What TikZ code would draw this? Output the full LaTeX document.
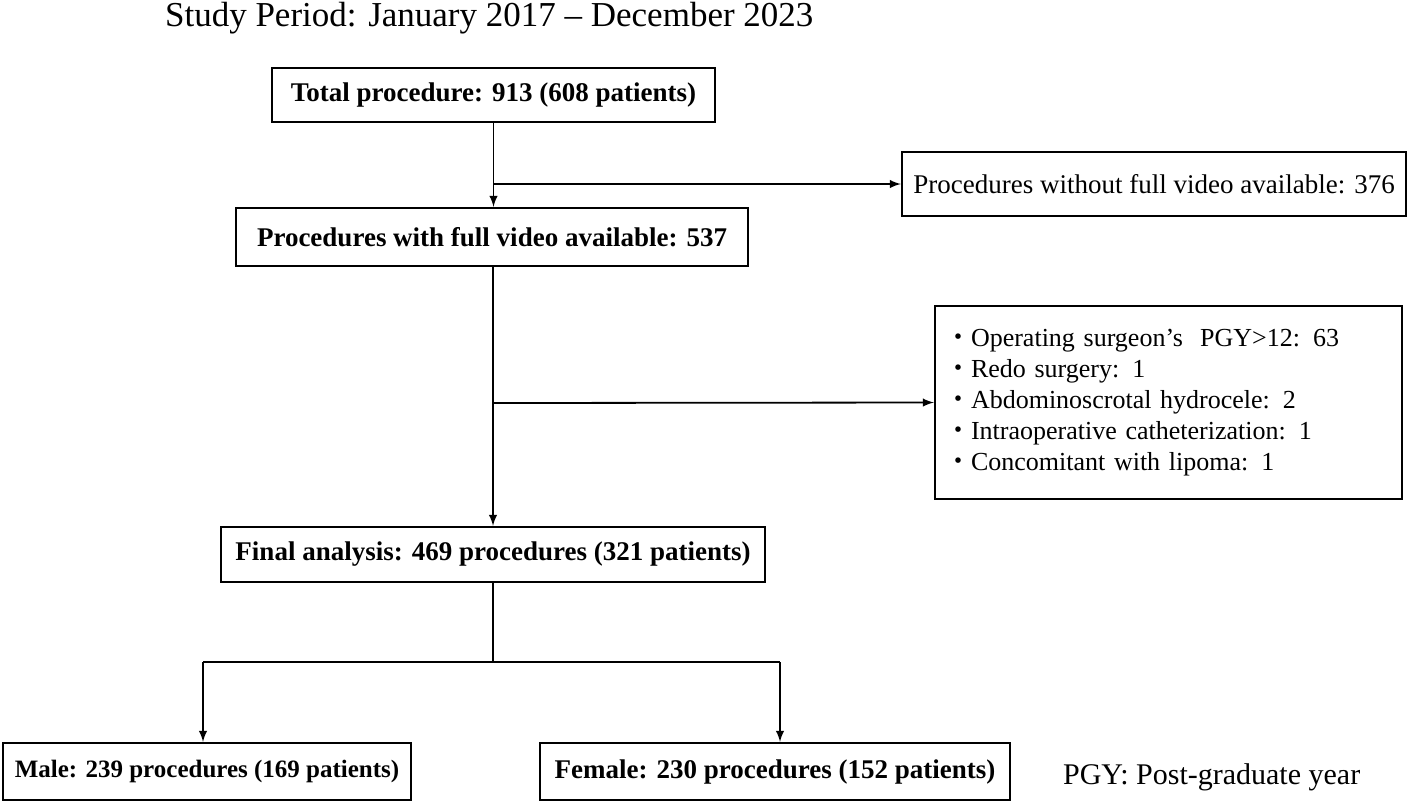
\documentclass[tikz,border=0pt]{standalone}
\usepackage{fontspec}
\setmainfont{Liberation Serif}
\newfontfamily\jpfont{Noto Sans CJK JP}
\begin{document}
\begin{tikzpicture}[x=0.5pt,y=-0.5pt,
  box/.style={draw,line width=1.2pt,font=\fontsize{13.5}{15}\selectfont\bfseries,inner sep=0pt},
  pbox/.style={draw,line width=1.2pt,font=\fontsize{13.5}{15}\selectfont,inner sep=0pt},
  arr/.style={-latex,line width=0.9pt},
  ln/.style={line width=0.9pt}]
\useasboundingbox (0,0) rectangle (1416,804);
\newcommand\bul{{\jpfont ・}}
\node[anchor=west,font=\fontsize{17.5}{19}\selectfont] (title) at (158,18) {Study Period: January 2017 -- December 2023};
\node[box,minimum width=443*0.5pt,minimum height=54*0.5pt] (total) at (493.5,95) {Total procedure: 913 (608 patients)};
\node[pbox,minimum width=504*0.5pt,minimum height=64*0.5pt] (without) at (1154,184) {Procedures without full video available: 376};
\node[box,minimum width=512*0.5pt,minimum height=58*0.5pt] (with) at (492,237) {Procedures with full video available: 537};
\node[pbox,text width=447*0.5pt,minimum height=193*0.5pt,inner xsep=5pt,align=left,font=\fontsize{13}{15.5}\selectfont] (excl) at (1168.5,402.5) {%
\bul Operating surgeon's\ \ PGY\textgreater12: 63\\
\bul Redo surgery: 1\\
\bul Abdominoscrotal hydrocele: 2\\
\bul Intraoperative catheterization: 1\\
\bul Concomitant with lipoma: 1};
\node[box,minimum width=544*0.5pt,minimum height=55*0.5pt] (final) at (493,554.5) {Final analysis: 469 procedures (321 patients)};
\node[box,minimum width=408*0.5pt,minimum height=57*0.5pt,font=\fontsize{12.5}{14}\selectfont\bfseries] (male) at (207,771.5) {Male: 239 procedures (169 patients)};
\node[box,minimum width=470*0.5pt,minimum height=57*0.5pt] (female) at (775,771.5) {Female: 230 procedures (152 patients)};
\node[anchor=west,font=\fontsize{15}{17}\selectfont] (pgy) at (1056,777) {PGY: Post-graduate year};
\coordinate (b1) at (493,184);
\coordinate (b2) at (493,403);
\coordinate (b3) at (493,662);
\coordinate (l3) at (203,662);
\coordinate (r3) at (780,662);
\draw[arr] (total.south) -- (with.north -| total.south);
\draw[arr] (b1) -- (without.west);
\draw[arr] (with.south -| b2) -- (final.north -| b2);
\draw[arr] (b2) -- (excl.west);
\draw[ln] (final.south -| b3) -- (b3);
\draw[ln] (l3) -- (r3);
\draw[arr] (l3) -- (male.north -| l3);
\draw[arr] (r3) -- (female.north -| r3);
\end{tikzpicture}
\end{document}
